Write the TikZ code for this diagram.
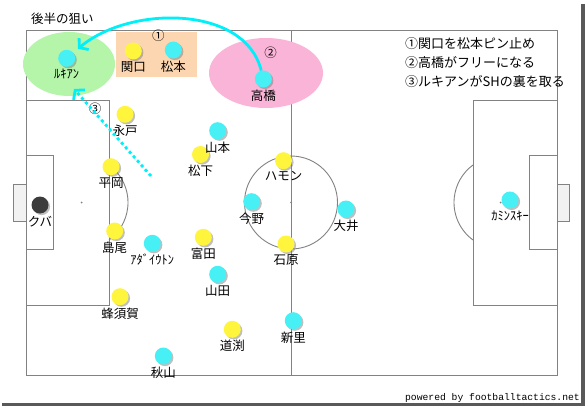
\documentclass[tikz,border=0pt]{standalone}
\usepackage{fontspec}
\setmainfont{Noto Sans CJK JP}
\newfontfamily\webfont{Liberation Mono}
\usepackage{xcolor}
\usepackage{tikz}
\usetikzlibrary{positioning,shadows,arrows.meta}

\definecolor{ballyellow}{RGB}{255,245,60}
\definecolor{ballcyan}{RGB}{70,240,245}
\definecolor{ballgrey}{RGB}{60,60,60}
\definecolor{zonegreen}{RGB}{180,245,170}
\definecolor{zonepink}{RGB}{250,180,215}
\definecolor{zoneorange}{RGB}{252,214,176}
\definecolor{runcyan}{RGB}{0,240,250}
\definecolor{pitchline}{RGB}{130,130,130}

\begin{document}
\begin{tikzpicture}[x=1pt, y=-1pt, node distance = 2pt]
            \tikzstyle{home} = [circle, inner sep=0pt, minimum size=17pt, fill=ballyellow, drop shadow={shadow xshift=1.6pt, shadow yshift=-1.6pt, opacity=0.5}]
            \tikzstyle{away} = [home, fill=ballcyan]
            \tikzstyle{keeper} = [home, fill=ballgrey]
            \tikzstyle{plname} = [inner sep=0pt, font=\fontsize{12.5}{14}\selectfont]
            \tikzstyle{note} = [inner sep=0pt, anchor=west, font=\fontsize{13}{15}\selectfont]
            \tikzstyle{run} = [runcyan, line width=2.8pt, -{Straight Barb[length=6pt, width=15pt]}]
            \tikzstyle{pitch} = [draw=pitchline, line width=0.9pt]

            \useasboundingbox (0,0) rectangle (586,409);
            \fill[white] (0,0) rectangle (586,409);

            % pitch
            \draw[pitch] (26,30) rectangle (557,375);
            \draw[pitch] (291,30) -- (291,375);
            \draw[pitch] (291,202.5) circle (46.5);
            \draw[pitch] (26,100) rectangle (109.5,305);
            \draw[pitch] (26,155.5) rectangle (53.5,249.5);
            \draw[pitch, fill=gray!10] (13,184) rectangle (26,221);
            \draw[pitch] (473.5,100) rectangle (557,305);
            \draw[pitch] (529.5,155.5) rectangle (557,249.5);
            \draw[pitch, fill=gray!10] (557,184) rectangle (569.5,221);
            \draw[pitch] (81.5,202.5) ++(-53.7:46.5) arc (-53.7:53.7:46.5);
            \draw[pitch] (500.5,202.5) ++(126.3:46.5) arc (126.3:233.7:46.5);
            \fill[pitchline] (81.5,202.5) circle (1);
            \fill[pitchline] (500.5,202.5) circle (1);
            \fill[pitchline] (291,202.5) circle (1);

            % zones
            \fill[zonegreen] (69,64) ellipse (46 and 32);
            \fill[zonepink] (266,73) ellipse (57 and 35);
            \fill[zoneorange] (116,32) rectangle (197,77);

            \node [plname] (M1) at (158.3,35.5) {①};
            \node [plname] (M2) at (270.7,52.3) {②};
            \node [plname] (M3) at (95,108.7) {③};

            % players
            \node [keeper] (P0) at (40,205) {};
            \node [plname, below = of P0] (N0) {クバ};

            \node [home] (P1) at (133.3,51) {};
            \node [plname, below = of P1] (N1) {関口};
            \node [home] (P2) at (125,114.3) {};
            \node [plname, below = of P2] (N2) {永戸};
            \node [home] (P3) at (111,166.7) {};
            \node [plname, below = of P3] (N3) {平岡};
            \node [home] (P4) at (114.7,231) {};
            \node [plname, below = of P4] (N4) {島尾};
            \node [home] (P5) at (120,296.7) {};
            \node [plname, below = of P5] (N5) {蜂須賀};
            \node [home] (P6) at (200.5,154.5) {};
            \node [plname, below = of P6] (N6) {松下};
            \node [home] (P7) at (203.3,237.3) {};
            \node [plname, below = of P7] (N7) {富田};
            \node [home] (P8) at (283.5,160.7) {};
            \node [plname, below = of P8] (N8) {ハモン};
            \node [home] (P9) at (286,244) {};
            \node [plname, below = of P9] (N9) {石原};
            \node [home] (P10) at (232.3,329.3) {};
            \node [plname, below = of P10] (N10) {道渕};

            \node [away] (P11) at (66.7,58.3) {};
            \node [plname, below = of P11] (N11) {ﾙｷｱﾝ};
            \node [away] (P12) at (173.3,50) {};
            \node [plname, below = of P12] (N12) {松本};
            \node [away] (P13) at (263.3,79) {};
            \node [plname, below = of P13] (N13) {高橋};
            \node [away] (P14) at (217.7,130.7) {};
            \node [plname, below = of P14] (N14) {山本};
            \node [away] (P15) at (251.7,201.7) {};
            \node [plname, below = of P15] (N15) {今野};
            \node [away] (P16) at (346,209) {};
            \node [plname, below = of P16] (N16) {大井};
            \node [away] (P17) at (152.3,243.3) {};
            \node [plname, below = of P17] (N17) {ｱﾀﾞｲｳﾄﾝ};
            \node [away] (P18) at (217.7,274.3) {};
            \node [plname, below = of P18] (N18) {山田};
            \node [away] (P19) at (293.3,320.7) {};
            \node [plname, below = of P19] (N19) {新里};
            \node [away] (P20) at (163.3,356) {};
            \node [plname, below = of P20] (N20) {秋山};
            \node [away] (P21) at (510,200) {};
            \node [plname, below = of P21] (N21) {ｶﾐﾝｽｷｰ};

            % texts
            \node [note, font=\fontsize{12.5}{14}\selectfont] (H) at (31,18.5) {後半の狙い};
            \node [note] (T1) at (405,43.5) {①関口を松本ピン止め};
            \node [note] (T2) at (405,63) {②高橋がフリーになる};
            \node [note] (T3) at (405,82) {③ルキアンがSHの裏を取る};
            \node [inner sep=0pt, anchor=east, font=\webfont\fontsize{9.7}{11}\selectfont] (W) at (580,397.5) {powered by footballtactics.net};

            % runs
            \coordinate (R0) at (151,176);
            \coordinate (R1) at (74,89);
            \draw [run, shorten >=6pt] (P13) .. controls (245,5) and (130,5) .. (P11);
            \draw [run, dash pattern=on 3pt off 3pt] (R0) -- (R1);

            % frame shadow
            \fill[gray!70!black] (581,4) rectangle (584.5,406);
            \fill[gray!70!black] (2,403) rectangle (584.5,406);
        \end{tikzpicture}
\end{document}
